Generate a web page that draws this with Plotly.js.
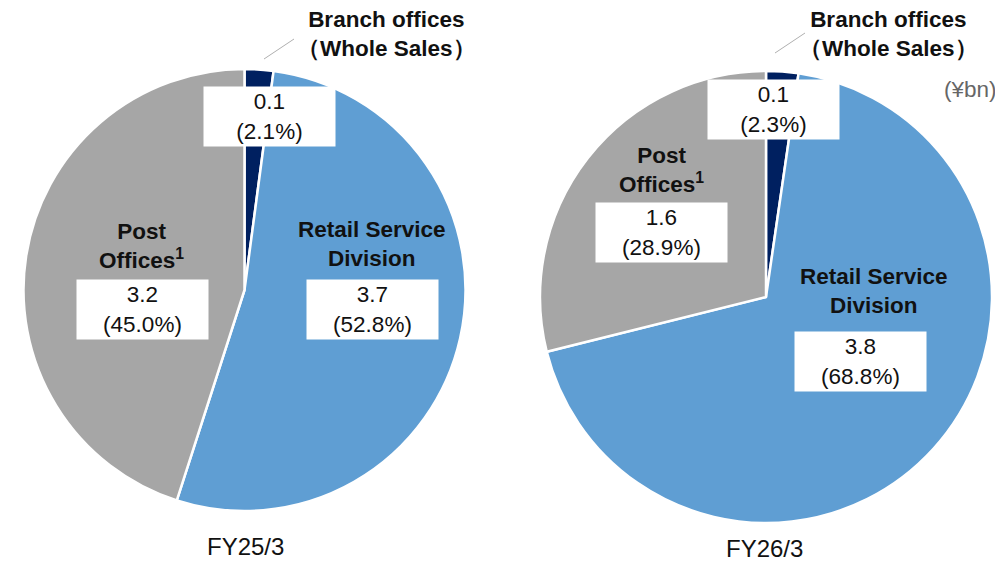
<!DOCTYPE html>
<html>
<head>
<meta charset="utf-8">
<script src="https://cdn.plot.ly/plotly-3.0.1.min.js"></script>
<style>html,body{margin:0;padding:0;background:#fff;}#chart{width:995px;height:561px;}</style>
</head>
<body>
<div id="chart"></div>
<script>
// Data
var segments = ["Branch offices (Whole Sales)", "Retail Service Division", "Post Offices"];
var periods = ["FY25/3", "FY26/3"];
var amountsFY25 = [0.1, 3.7, 3.2];
var sharesFY25 = [2.1, 52.8, 45.0];
var amountsFY26 = [0.1, 3.8, 1.6];
var sharesFY26 = [2.3, 68.8, 28.9];
var unitLabel = "(¥bn)";

var W = 995, H = 561;
function px(x) { return x / W; }
function py(y) { return 1 - y / H; }

var colors = ["#002060", "#5F9ED3", "#A6A6A6"];
var FONT = "Liberation Sans, Arial, sans-serif";
var FS = 22.5;

function pieTrace(shares, cx, cy, r) {
  return {
    type: "pie",
    values: shares,
    labels: segments,
    sort: false,
    direction: "clockwise",
    rotation: 0,
    textinfo: "none",
    hoverinfo: "none",
    showlegend: false,
    marker: { colors: colors, line: { color: "#ffffff", width: 2.5 } },
    domain: { x: [px(cx - r), px(cx + r)], y: [py(cy + r), py(cy - r)] }
  };
}

var data = [
  pieTrace(sharesFY25, 244.5, 290, 221),
  pieTrace(sharesFY26, 766, 297, 226)
];

function valueText(amts, shares, i) {
  return amts[i].toFixed(1) + "<br>(" + shares[i].toFixed(1) + "%)";
}

var annotations = [];
function boxAnn(x, y, text) {
  annotations.push({
    x: px(x), y: py(y), xref: "paper", yref: "paper", showarrow: false,
    text: text, align: "center", xanchor: "center", yanchor: "middle",
    width: 129, height: 57, bgcolor: "#ffffff", borderpad: 1,
    font: { family: FONT, size: FS, color: "#111111" }
  });
}
function boldAnn(x, y, text) {
  annotations.push({
    x: px(x), y: py(y), xref: "paper", yref: "paper", showarrow: false,
    text: "<b>" + text + "</b>", align: "center", xanchor: "center", yanchor: "middle",
    font: { family: FONT, size: FS, color: "#111111" }
  });
}
function plainAnn(x, y, text, size, color, xanchor) {
  annotations.push({
    x: px(x), y: py(y), xref: "paper", yref: "paper", showarrow: false,
    text: text, align: "center", xanchor: xanchor || "center", yanchor: "middle",
    font: { family: FONT, size: size, color: color }
  });
}

// FY25/3
boxAnn(269.5, 116, valueText(amountsFY25, sharesFY25, 0));
boldAnn(372, 244, "Retail Service<br>Division");
boxAnn(372.5, 309, valueText(amountsFY25, sharesFY25, 1));
boldAnn(141, 246, "Post<br>Offices<sup>1</sup>");
boxAnn(142.5, 309, valueText(amountsFY25, sharesFY25, 2));
boldAnn(386, 34, "Branch offices<br>（Whole Sales）");
plainAnn(245, 546, periods[0], 24, "#111111");

// FY26/3
boxAnn(773, 109, valueText(amountsFY26, sharesFY26, 0));
boldAnn(874, 291, "Retail Service<br>Division");
boxAnn(860, 361, valueText(amountsFY26, sharesFY26, 1));
boldAnn(661, 170, "Post<br>Offices<sup>1</sup>");
boxAnn(661, 233, valueText(amountsFY26, sharesFY26, 2));
boldAnn(888, 34, "Branch offices<br>（Whole Sales）");
plainAnn(764, 548, periods[1], 24, "#111111");

plainAnn(942, 90, unitLabel, FS, "#666666", "left");

var shapes = [
  { type: "line", xref: "paper", yref: "paper", x0: px(264), y0: py(59), x1: px(294), y1: py(39), line: { color: "#B0B0B0", width: 1 } },
  { type: "line", xref: "paper", yref: "paper", x0: px(775), y0: py(53), x1: px(805), y1: py(33), line: { color: "#B0B0B0", width: 1 } }
];

var layout = {
  width: W, height: H,
  margin: { l: 0, r: 0, t: 0, b: 0 },
  paper_bgcolor: "#ffffff",
  plot_bgcolor: "#ffffff",
  showlegend: false,
  annotations: annotations,
  shapes: shapes
};

Plotly.newPlot("chart", data, layout, { displayModeBar: false, staticPlot: true });
</script>
</body>
</html>
